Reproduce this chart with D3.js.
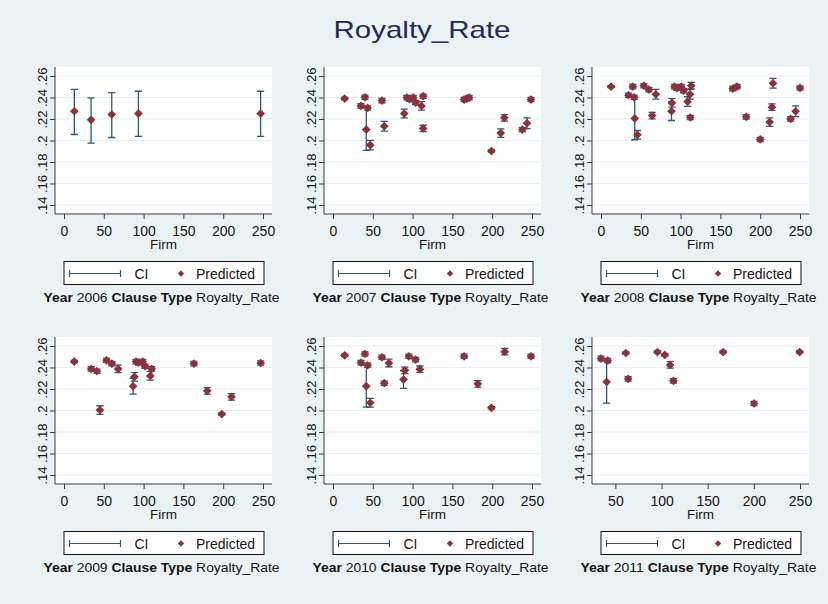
<!DOCTYPE html>
<html>
<head>
<meta charset="utf-8">
<script src="https://cdn.jsdelivr.net/npm/d3@7"></script>
<style>
  body { margin: 0; background: #eaf2f3; }
  text { font-family: Arial, "Liberation Sans", Helvetica, sans-serif; }
</style>
</head>
<body>
<svg id="chart" width="828" height="604"></svg>
<script>
// ---- Predicted royalty rate by firm, with confidence intervals, one panel per year ----
const years = [2006, 2007, 2008, 2009, 2010, 2011];

const firm2006 = [13, 34, 60, 93.5, 247];
const pred2006 = [0.2272, 0.2192, 0.2242, 0.2251, 0.2251];
const low2006  = [0.2056, 0.1976, 0.2028, 0.2038, 0.2038];
const high2006 = [0.2476, 0.2396, 0.2445, 0.2458, 0.2458];

const firm2007 = [14.6, 35.1, 40.1, 43.5, 41.8, 46.8, 61.5, 64.4, 89.5, 92.8, 96.2, 100.8, 103.7, 111.2, 113.3, 113.3, 164.7, 168.1, 171, 199, 210.7, 215.3, 237.9, 243.7, 248.7];
const pred2007 = [0.239, 0.2322, 0.2402, 0.2303, 0.2102, 0.1957, 0.2371, 0.2133, 0.2251, 0.2399, 0.2384, 0.2399, 0.2353, 0.2322, 0.2412, 0.2112, 0.2381, 0.239, 0.2399, 0.1902, 0.2069, 0.2211, 0.2102, 0.2161, 0.2381];
const low2007  = [0.238, 0.2302, 0.2382, 0.2283, 0.1908, 0.1912, 0.2351, 0.2088, 0.2211, 0.2379, 0.2364, 0.2379, 0.2333, 0.2282, 0.2392, 0.2082, 0.2361, 0.237, 0.2379, 0.1892, 0.2029, 0.2181, 0.2082, 0.2111, 0.2361];
const high2007 = [0.240, 0.2342, 0.2422, 0.2323, 0.2303, 0.2002, 0.2391, 0.2178, 0.2291, 0.2419, 0.2404, 0.2419, 0.2373, 0.2362, 0.2432, 0.2142, 0.2401, 0.241, 0.2419, 0.1912, 0.2109, 0.2241, 0.2122, 0.2211, 0.2401];

const firm2008 = [12.6, 34.5, 39.9, 41.6, 42.4, 45.8, 53.8, 60.1, 64.3, 68.9, 89.1, 88.5, 92.4, 95.4, 100.8, 103.8, 108.8, 111.8, 113.4, 112.2, 165.5, 171, 182.4, 200, 211.8, 214.7, 216, 238.2, 244.5, 250];
const pred2008 = [0.2501, 0.2421, 0.2501, 0.2402, 0.2205, 0.2053, 0.251, 0.2473, 0.2232, 0.243, 0.235, 0.2272, 0.2501, 0.2486, 0.2501, 0.2464, 0.2362, 0.243, 0.251, 0.2214, 0.2483, 0.2501, 0.222, 0.201, 0.2171, 0.231, 0.2532, 0.2201, 0.2272, 0.2489];
const low2008  = [0.2491, 0.2401, 0.2481, 0.2382, 0.2007, 0.2013, 0.249, 0.2453, 0.2202, 0.2385, 0.231, 0.2186, 0.2481, 0.2466, 0.2481, 0.2444, 0.2317, 0.2385, 0.248, 0.2194, 0.2463, 0.2481, 0.22, 0.199, 0.2131, 0.228, 0.2487, 0.2181, 0.2222, 0.2469];
const high2008 = [0.2511, 0.2441, 0.2521, 0.2422, 0.2402, 0.2093, 0.253, 0.2493, 0.2262, 0.2475, 0.239, 0.2358, 0.2521, 0.2506, 0.2521, 0.2484, 0.2407, 0.2475, 0.254, 0.2234, 0.2503, 0.2521, 0.224, 0.203, 0.2211, 0.234, 0.2577, 0.2221, 0.2322, 0.2509];

const firm2009 = [12.9, 34.2, 41.3, 45.1, 53.4, 60.1, 68, 86.8, 88.5, 90.6, 93.5, 98.9, 101.8, 108.5, 110.2, 163.2, 179.9, 198.2, 210.4, 247.1];
const pred2009 = [0.2455, 0.2387, 0.2365, 0.2004, 0.2467, 0.2436, 0.2387, 0.2226, 0.2313, 0.2455, 0.2445, 0.2455, 0.2412, 0.2322, 0.2387, 0.2436, 0.2183, 0.1967, 0.2127, 0.2442];
const low2009  = [0.2445, 0.2367, 0.2345, 0.1964, 0.2447, 0.2416, 0.2352, 0.2152, 0.2273, 0.2435, 0.2425, 0.2435, 0.2392, 0.2282, 0.2367, 0.2416, 0.2153, 0.1957, 0.2097, 0.2422];
const high2009 = [0.2465, 0.2407, 0.2385, 0.2044, 0.2487, 0.2456, 0.2422, 0.2300, 0.2353, 0.2475, 0.2465, 0.2475, 0.2432, 0.2362, 0.2407, 0.2456, 0.2213, 0.1977, 0.2157, 0.2462];

const firm2010 = [14.6, 35.1, 40.1, 43.5, 41.8, 46.8, 61.5, 64.4, 70.2, 88.6, 90.3, 95.3, 103.7, 109.1, 164.7, 181.9, 199, 215.7, 248.7];
const pred2010 = [0.2513, 0.2445, 0.2526, 0.2421, 0.2226, 0.2072, 0.2495, 0.2254, 0.2442, 0.2288, 0.2374, 0.2504, 0.2473, 0.2384, 0.2504, 0.2248, 0.2025, 0.2547, 0.2504];
const low2010  = [0.2503, 0.2425, 0.2506, 0.2401, 0.2031, 0.2032, 0.2475, 0.2234, 0.2407, 0.2206, 0.2344, 0.2484, 0.2453, 0.2354, 0.2484, 0.2218, 0.2015, 0.2517, 0.2484];
const high2010 = [0.2523, 0.2465, 0.2546, 0.2441, 0.2421, 0.2112, 0.2515, 0.2274, 0.2477, 0.2370, 0.2404, 0.2524, 0.2493, 0.2414, 0.2524, 0.2278, 0.2035, 0.2577, 0.2524];

const firm2011 = [34.4, 40.5, 41.6, 61.3, 63.8, 95.5, 103.5, 109.3, 112.9, 166.7, 200.2, 249.6];
const pred2011 = [0.2483, 0.2266, 0.2464, 0.2535, 0.2294, 0.2544, 0.2517, 0.2424, 0.2276, 0.2544, 0.2065, 0.2544];
const low2011  = [0.2461, 0.2069, 0.2444, 0.2525, 0.2274, 0.2534, 0.2507, 0.2394, 0.2256, 0.2534, 0.2045, 0.2534];
const high2011 = [0.2505, 0.2461, 0.2484, 0.2545, 0.2314, 0.2554, 0.2527, 0.2454, 0.2296, 0.2554, 0.2085, 0.2554];

const yTicks = [0.14, 0.16, 0.18, 0.2, 0.22, 0.24, 0.26];
const yTickLabels = [".14", ".16", ".18", ".2", ".22", ".24", ".26"];
const xTicksFull = [0, 50, 100, 150, 200, 250];
const xTicks2011 = [50, 100, 150, 200, 250];

const chartTitle = "Royalty_Rate";
const legendLabels = ["CI", "Predicted"];

const series = {
  2006: [firm2006, pred2006, low2006, high2006, xTicksFull],
  2007: [firm2007, pred2007, low2007, high2007, xTicksFull],
  2008: [firm2008, pred2008, low2008, high2008, xTicksFull],
  2009: [firm2009, pred2009, low2009, high2009, xTicksFull],
  2010: [firm2010, pred2010, low2010, high2010, xTicksFull],
  2011: [firm2011, pred2011, low2011, high2011, xTicks2011]
};

// ---- layout / style ----
const W = 828, H = 604;
const colX = [55, 324, 592];
const rowY = [67, 337];
const plotW = 217, plotH = 147, pad = 9;
const BG = "#eaf2f3", GRID = "#e4edf0", AXIS = "#3a3a3a", TEXT = "#141414";
const CI_COLOR = "#2d5681", MARK = "#8e3039";

const svg = d3.select("#chart");
svg.append("rect").attr("width", W).attr("height", H).attr("fill", BG);

svg.append("text")
  .attr("x", 422).attr("y", 38)
  .attr("text-anchor", "middle")
  .attr("font-size", 24)
  .attr("textLength", 177).attr("lengthAdjust", "spacingAndGlyphs")
  .attr("fill", "#1d2d55")
  .text(chartTitle);

const diamond = d3.symbol().type(d3.symbolSquare).size(38);

years.forEach((yr, i) => {
  const [firms, preds, lows, highs, xTicks] = series[yr];
  const x0 = colX[i % 3], y0 = rowY[Math.floor(i / 3)];
  const g = svg.append("g");

  const xMin = Math.min(d3.min(firms), d3.min(xTicks));
  const xMax = Math.max(d3.max(firms), d3.max(xTicks));
  const x = d3.scaleLinear().domain([xMin, xMax]).range([x0 + pad, x0 + plotW - pad]);
  const y = d3.scaleLinear().domain([0.14, 0.26]).range([y0 + plotH - pad, y0 + pad]);

  // plot region
  g.append("rect").attr("x", x0).attr("y", y0).attr("width", plotW).attr("height", plotH).attr("fill", "#ffffff");

  // horizontal grid
  g.append("g").selectAll("line").data(yTicks).join("line")
    .attr("x1", x0).attr("x2", x0 + plotW)
    .attr("y1", d => y(d)).attr("y2", d => y(d))
    .attr("stroke", GRID).attr("stroke-width", 1.2);

  // y axis, labels rotated to read upwards
  const yAxis = g.append("g").attr("transform", `translate(${x0},0)`)
    .call(d3.axisLeft(y).tickValues(yTicks).tickSize(5)
      .tickFormat((d, k) => yTickLabels[k]));
  yAxis.select(".domain").attr("stroke", AXIS).attr("d", `M0,${y0}V${y0 + plotH}`);
  yAxis.selectAll(".tick line").attr("stroke", AXIS);
  yAxis.selectAll(".tick text")
    .attr("font-size", 13).attr("fill", TEXT)
    .attr("x", null).attr("dy", null).attr("y", 0)
    .attr("text-anchor", "middle")
    .attr("transform", "translate(-8,0) rotate(-90)");

  // x axis
  const xAxis = g.append("g").attr("transform", `translate(0,${y0 + plotH})`)
    .call(d3.axisBottom(x).tickValues(xTicks).tickSize(5).tickPadding(7).tickFormat(d3.format("d")));
  xAxis.select(".domain").attr("stroke", AXIS).attr("d", `M${x0},0H${x0 + plotW}`);
  xAxis.selectAll(".tick line").attr("stroke", AXIS);
  xAxis.selectAll(".tick text").attr("font-size", 14).attr("fill", TEXT);

  const cx = x0 + plotW / 2;
  g.append("text").attr("x", cx).attr("y", y0 + plotH + 35)
    .attr("text-anchor", "middle").attr("font-size", 13.5).attr("fill", TEXT).text("Firm");

  // confidence intervals (capped spikes)
  const pts = firms.map((f, k) => ({ f, p: preds[k], lo: lows[k], hi: highs[k] }));
  const ci = g.append("g").attr("stroke", CI_COLOR).attr("stroke-width", 1.3).attr("fill", "none");
  ci.selectAll("path").data(pts).join("path")
    .attr("d", d => {
      const px = x(d.f), a = y(d.hi), b = y(d.lo), c = 3.6;
      return `M${px},${a}V${b}M${px - c},${a}H${px + c}M${px - c},${b}H${px + c}`;
    });

  // predicted values
  g.append("g").selectAll("path").data(pts).join("path")
    .attr("d", diamond)
    .attr("transform", d => `translate(${x(d.f)},${y(d.p)}) rotate(45)`)
    .attr("fill", MARK);

  // legend
  const lw = 200, lh = 23, lx = cx - lw / 2, ly = y0 + plotH + 47;
  const lg = g.append("g").attr("transform", `translate(${lx},${ly})`);
  lg.append("rect").attr("x", 0.5).attr("y", 0.5).attr("width", lw).attr("height", lh)
    .attr("fill", "#ffffff").attr("stroke", "#111").attr("stroke-width", 1);
  const ly0 = 12.5;
  lg.append("path")
    .attr("d", `M6,${ly0}H57M6,${ly0 - 3.5}V${ly0 + 3.5}M57,${ly0 - 3.5}V${ly0 + 3.5}`)
    .attr("stroke", CI_COLOR).attr("stroke-width", 1.2).attr("fill", "none");
  lg.append("text").attr("x", 71).attr("y", 17.5).attr("font-size", 14).attr("fill", TEXT).text(legendLabels[0]);
  lg.append("path").attr("d", d3.symbol().type(d3.symbolSquare).size(20))
    .attr("transform", `translate(117.5,${ly0}) rotate(45)`).attr("fill", MARK);
  lg.append("text").attr("x", 132.5).attr("y", 17.5).attr("font-size", 14).attr("fill", TEXT).text(legendLabels[1]);

  // panel caption
  const cap = g.append("text").attr("x", cx - 2).attr("y", y0 + plotH + 88)
    .attr("text-anchor", "middle").attr("font-size", 13.5).attr("fill", TEXT)
    .attr("textLength", 236).attr("lengthAdjust", "spacingAndGlyphs");
  cap.append("tspan").attr("font-weight", "bold").text("Year ");
  cap.append("tspan").text(yr + " ");
  cap.append("tspan").attr("font-weight", "bold").text("Clause Type ");
  cap.append("tspan").text("Royalty_Rate");
});
</script>
</body>
</html>
